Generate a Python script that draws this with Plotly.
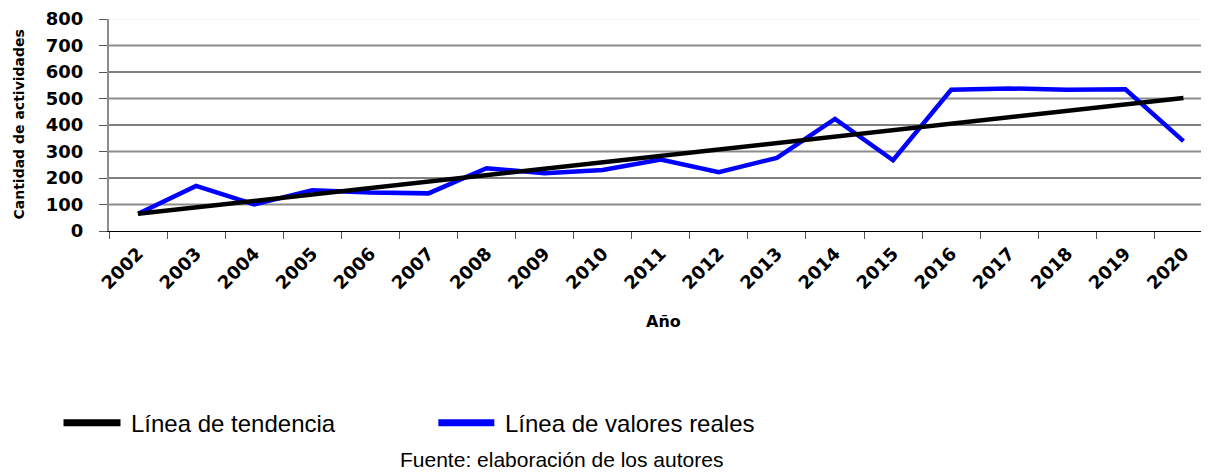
import plotly.graph_objects as go

years = [str(y) for y in range(2002, 2021)]
real_values = [65, 170, 100, 154, 145, 142, 237, 218, 230, 270, 222, 276, 423, 267, 533, 538, 533, 535, 339]
trend_years = ["2002", "2020"]
trend_values = [65, 502]
y_ticks = [0, 100, 200, 300, 400, 500, 600, 700, 800]

# the page body adds an 8px offset; size the figure to fill the rest of the window
OFF = 8
W, H = 1209 - OFF, 472 - OFF
L, T = 108.5 - OFF, 19 - OFF   # plot area origin in figure pixels
PW, PH = W - L, 212
B = H - T - PH


def px(xs):
    """screen x pixel -> paper x"""
    return (xs - OFF - L) / PW


def py(ys):
    """screen y pixel -> paper y"""
    return (T + PH - (ys - OFF)) / PH


fig = go.Figure()
fig.add_trace(go.Scatter(x=years, y=real_values, mode="lines",
                         line=dict(color="#0000FF", width=4.5), showlegend=False,
                         name="Línea de valores reales"))
fig.add_trace(go.Scatter(x=trend_years, y=trend_values, mode="lines",
                         line=dict(color="#000000", width=4.5), showlegend=False,
                         name="Línea de tendencia"))

shapes = []
for v in y_ticks[1:]:
    if v == 800:
        col, wd = "#eeeeee", 1
    elif (v // 100) % 2 == 1:
        col, wd = "#8c8c8c", 2
    else:
        col, wd = "#000000", 1
    shapes.append(dict(type="line", xref="paper", yref="y", x0=0, x1=1, y0=v, y1=v,
                       line=dict(color=col, width=wd), layer="below"))

# manual legend
shapes.append(dict(type="line", xref="paper", yref="paper", x0=px(63), x1=px(120),
                   y0=py(422.7), y1=py(422.7), line=dict(color="#000000", width=7)))
shapes.append(dict(type="line", xref="paper", yref="paper", x0=px(438), x1=px(494),
                   y0=py(422.7), y1=py(422.7), line=dict(color="#0000FF", width=7)))

annotations = [
    dict(text="Línea de tendencia", xref="paper", yref="paper", x=px(129), y=py(423),
         xanchor="left", yanchor="middle", showarrow=False,
         font=dict(family="Liberation Sans, Arial", size=24, color="#000")),
    dict(text="Línea de valores reales", xref="paper", yref="paper", x=px(503), y=py(423),
         xanchor="left", yanchor="middle", showarrow=False,
         font=dict(family="Liberation Sans, Arial", size=24, color="#000")),
    dict(text="Fuente: elaboración de los autores", xref="paper", yref="paper", x=px(398), y=py(460),
         xanchor="left", yanchor="middle", showarrow=False,
         font=dict(family="Liberation Sans, Arial", size=21, color="#000")),
    dict(text="Año", xref="paper", yref="paper", x=px(663), y=py(321),
         xanchor="center", yanchor="middle", showarrow=False,
         font=dict(family="DejaVu Sans", size=16, color="#000", weight="bold")),
    dict(text="Cantidad de actividades", xref="paper", yref="paper", x=px(18), y=py(125),
         xanchor="center", yanchor="middle", showarrow=False, textangle=-90,
         font=dict(family="DejaVu Sans", size=14, color="#000", weight="bold")),
]

fig.update_layout(
    width=W, height=H,
    margin=dict(l=L, r=0, t=T, b=B, pad=0, autoexpand=False),
    paper_bgcolor="white", plot_bgcolor="white",
    shapes=shapes, annotations=annotations,
    showlegend=False,
    xaxis=dict(type="category", range=[-0.5, 18.44], tickson="boundaries",
               ticks="outside", ticklen=7, tickcolor="#555", tickwidth=1,
               showline=True, linecolor="#000", linewidth=1, showgrid=False,
               tickangle=-45, zeroline=False, automargin=False, ticklabelstandoff=4,
               tickfont=dict(family="DejaVu Sans", size=18, color="#000", weight="bold")),
    yaxis=dict(range=[0, 800], tickvals=y_ticks, ticks="outside", ticklen=8,
               tickcolor="#555", showline=True, linecolor="#8c8c8c", linewidth=2,
               showgrid=False, zeroline=False, ticklabelstandoff=12, automargin=False,
               tickfont=dict(family="DejaVu Sans", size=18, color="#000", weight="bold")),
)

fig.write_html("out.html")
